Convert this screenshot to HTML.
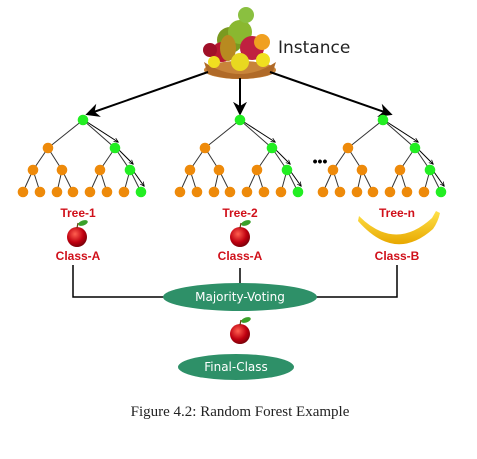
<!DOCTYPE html>
<html><head><meta charset="utf-8"><style>
html,body{margin:0;padding:0;background:#fff;width:477px;height:459px;overflow:hidden}
svg{display:block}
.lbl{font-family:"Liberation Sans",sans-serif;font-weight:bold;fill:#d0101a;font-size:12px}
</style></head><body>
<svg id="fig" width="477" height="459" viewBox="0 0 477 459" xmlns="http://www.w3.org/2000/svg">
<defs>
<marker id="ah" viewBox="0 0 10 10" refX="8" refY="5" markerWidth="7" markerHeight="7" orient="auto"><path d="M0,0 L10,5 L0,10 L3,5z" fill="#000"/></marker>
<marker id="sa" viewBox="0 0 10 10" refX="8" refY="5" markerWidth="5" markerHeight="5" orient="auto"><path d="M0,1 L9,5 L0,9" fill="none" stroke="#000" stroke-width="1.5"/></marker>
<radialGradient id="apg" cx="0.4" cy="0.35" r="0.7"><stop offset="0" stop-color="#ff6050"/><stop offset="0.6" stop-color="#c00010"/><stop offset="1" stop-color="#700008"/></radialGradient>
<linearGradient id="ban" x1="0" y1="0" x2="0" y2="1"><stop offset="0" stop-color="#ffe24a"/><stop offset="1" stop-color="#e8a800"/></linearGradient>
</defs>
<g>
<circle cx="230" cy="40" r="13" fill="#7a9a20"/>
<circle cx="222" cy="52" r="10" fill="#b81830"/>
<circle cx="240" cy="32" r="12" fill="#8ab830"/>
<circle cx="252" cy="48" r="12" fill="#c02040"/>
<circle cx="262" cy="42" r="8" fill="#f0a020"/>
<circle cx="210" cy="50" r="7" fill="#a01028"/>
<ellipse cx="228" cy="48" rx="8" ry="13" fill="#b88a20"/>
<circle cx="246" cy="15" r="8" fill="#8ac040"/>
<ellipse cx="240" cy="70" rx="36" ry="9" fill="#c8843a"/>
<path d="M204,62 Q240,86 276,62 L272,74 Q240,84 208,74z" fill="#b06a28"/>
<circle cx="240" cy="62" r="9" fill="#e8d820"/>
<circle cx="214" cy="62" r="6" fill="#f0e020"/>
<circle cx="263" cy="60" r="7" fill="#f0e020"/>
</g>
<text x="278" y="53" font-family="'DejaVu Sans',sans-serif" font-size="17" fill="#222">Instance</text>
<g stroke="#000" stroke-width="2" fill="none">
<line x1="208" y1="72" x2="88" y2="114" marker-end="url(#ah)"/>
<line x1="240" y1="78" x2="240" y2="113" marker-end="url(#ah)"/>
<line x1="270" y1="72" x2="390" y2="114" marker-end="url(#ah)"/>
</g>
<g id="trees"></g>
<text x="320" y="166" font-family="'Liberation Sans',sans-serif" font-size="14" font-weight="bold" text-anchor="middle">•••</text>
<text class="lbl" x="78" y="217" text-anchor="middle">Tree-1</text>
<text class="lbl" x="240" y="217" text-anchor="middle">Tree-2</text>
<text class="lbl" x="397" y="217" text-anchor="middle">Tree-n</text>
<g id="apples"></g>
<path d="M359,216 Q395,252 432,218 L436,211 L440,213 Q438,222 433,229 Q395,263 358,221z" fill="url(#ban)"/>
<text class="lbl" x="78" y="260" text-anchor="middle">Class-A</text>
<text class="lbl" x="240" y="260" text-anchor="middle">Class-A</text>
<text class="lbl" x="397" y="260" text-anchor="middle">Class-B</text>
<g stroke="#000" stroke-width="1.5" fill="none">
<polyline points="73,265 73,297 165,297"/>
<line x1="240" y1="268" x2="240" y2="284"/>
<polyline points="316,297 397,297 397,265"/>
</g>
<ellipse cx="240" cy="297" rx="77" ry="14" fill="#2e9068"/>
<text x="240" y="301" text-anchor="middle" font-family="'DejaVu Sans',sans-serif" font-size="12" fill="#fff">Majority-Voting</text>
<ellipse cx="236" cy="367" rx="58" ry="13" fill="#2e9068"/>
<text x="236" y="371" text-anchor="middle" font-family="'DejaVu Sans',sans-serif" font-size="12" fill="#fff">Final-Class</text>
<text x="240" y="416" text-anchor="middle" font-family="'Liberation Serif',serif" font-size="15" fill="#222">Figure 4.2: Random Forest Example</text>
</svg>
<script>
const treeCenters=[83,240,383];
const ns="http://www.w3.org/2000/svg";
const G=document.getElementById('trees');
function mk(t,a,p){const e=document.createElementNS(ns,t);for(const k in a)e.setAttribute(k,a[k]);p.appendChild(e);return e;}
treeCenters.forEach((c,ti)=>{
  const g=mk('g',{},G);
  
  
  const ys=[120,148,170,192];
  const nodes=[];
  const L=[[0],[-35,32],[-50,-21,17,47],[-60,-43,-26,-10,7,24,41,58]];
  for(let l=0;l<4;l++)L[l].forEach((dx,i)=>nodes.push({l,i,x:c+dx,y:ys[l]}));
  const get=(l,i)=>nodes.find(n=>n.l===l&&n.i===i);
  for(let l=1;l<4;l++)L[l].forEach((d,i)=>{const p=get(l-1,Math.floor(i/2)),n=get(l,i);mk('line',{x1:p.x,y1:p.y,x2:n.x,y2:n.y,stroke:'#333','stroke-width':1},g);});
  const path=[get(0,0),get(1,1),get(2,3),get(3,7)];
  for(let k=0;k<3;k++){const a=path[k],b=path[k+1];
    mk('line',{x1:a.x+4,y1:a.y+2,x2:b.x+3,y2:b.y-6,stroke:'#000','stroke-width':1,'marker-end':'url(#sa)'},g);}
  nodes.forEach(n=>{const green=path.includes(n);
    const e=mk('circle',{cx:n.x,cy:n.y,r:5.3,fill:green?'#22ee22':'#ee8a0a'},g);
    
    });
});
const A=document.getElementById('apples');
[[77,237],[240,237],[240,334]].forEach((p,i)=>{
  const g=mk('g',{},A);
  
  
  mk('circle',{cx:p[0],cy:p[1],r:10,fill:'url(#apg)'},g);
  mk('line',{x1:p[0],y1:p[1]-9,x2:p[0]+1,y2:p[1]-14,stroke:'#6a3a10','stroke-width':1.2},g);
  mk('ellipse',{cx:p[0]+6,cy:p[1]-14,rx:5,ry:2.5,fill:'#3aa02a',transform:`rotate(-20 ${p[0]+6} ${p[1]-14})`},g);
});
</script>
</body></html>
